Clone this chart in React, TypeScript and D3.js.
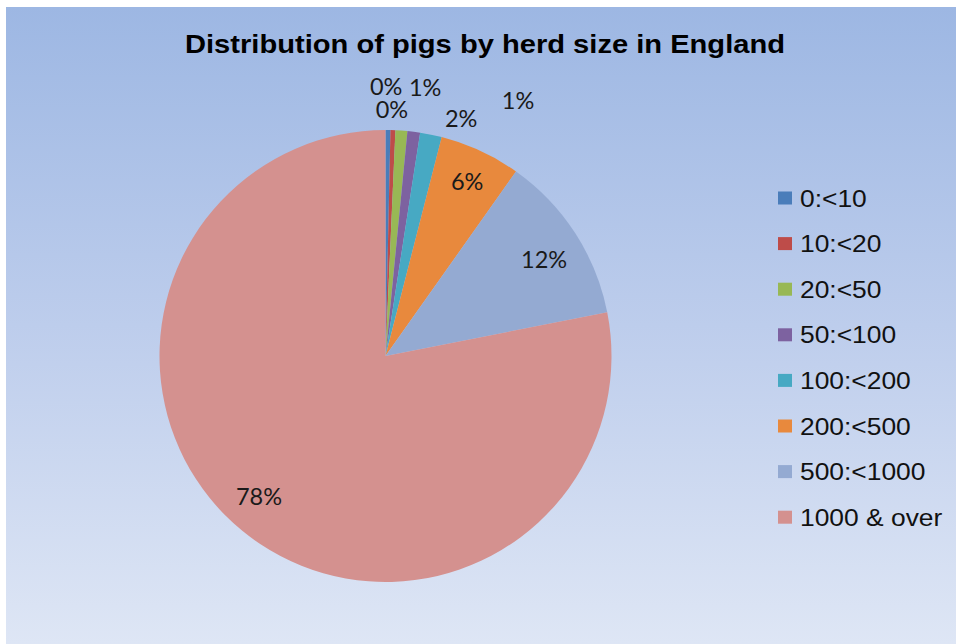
import React from 'react';
import * as d3 from 'd3';

const title = 'Distribution of pigs by herd size in England';
const categories = ['0:<10', '10:<20', '20:<50', '50:<100', '100:<200', '200:<500', '500:<1000', '1000 & over'];
const shares = [0.35, 0.35, 0.85, 0.9, 1.55, 5.8, 12.1, 78.1];
const colors = ['#4A7DBA', '#BE4C49', '#98B855', '#7D62A0', '#47A9C3', '#E8893D', '#94AAD2', '#D4918F'];

// label placement: [radius factor, angle offset in degrees from slice mid-angle]
const labelPlacement: [number, number][] = [
  [1.19, -0.5],
  [1.09, -0.4],
  [1.2, 4.35],
  [1.27, 20.3],
  [1.1, 6.1],
  [0.85, 0.3],
  [0.82, 1.8],
  [0.84, 2.4],
];

const W = 957;
const H = 644;
const cx = 385.5;
const cy = 356;
const R = 226;

export default function App() {
  const pie = d3.pie<number>().sort(null).value((d) => d);
  const arcs = pie(shares);
  const arc = d3.arc<d3.PieArcDatum<number>>().innerRadius(0).outerRadius(R);
  const total = d3.sum(shares);
  const fmt = (v: number) => `${Math.round((v / total) * 100)}%`;

  const legendX = 778;
  const legendY0 = 198;
  const legendStep = 45.6;

  return (
    <svg
      width={W}
      height={H}
      style={{ position: 'absolute', left: 0, top: 0 }}
      xmlns="http://www.w3.org/2000/svg"
    >
      <defs>
        <linearGradient id="bg" x1="0" y1="0" x2="0" y2="1">
          <stop offset="0%" stopColor="#9DB7E3" />
          <stop offset="50%" stopColor="#BDCDEC" />
          <stop offset="100%" stopColor="#DEE6F5" />
        </linearGradient>
      </defs>
      <rect x={0} y={0} width={W} height={H} fill="#ffffff" />
      <rect x={6} y={7} width={950} height={637} fill="url(#bg)" />
      <text
        x={485}
        y={53}
        textAnchor="middle"
        fontFamily="'Liberation Sans', Arial, sans-serif"
        fontWeight="bold"
        fontSize={26.5}
        textLength={600}
        lengthAdjust="spacingAndGlyphs"
        fill="#000"
      >
        {title}
      </text>
      <g transform={`translate(${cx},${cy})`}>
        {arcs.map((a, i) => (
          <path key={i} d={arc(a) || ''} fill={colors[i]} />
        ))}
        {arcs.map((a, i) => {
          const [rf, off] = labelPlacement[i];
          const mid = (a.startAngle + a.endAngle) / 2 + (off * Math.PI) / 180;
          const r = rf * R;
          const x = Math.sin(mid) * r;
          const y = -Math.cos(mid) * r;
          return (
            <text
              key={'l' + i}
              x={x}
              y={y + 8}
              textAnchor="middle"
              fontFamily="Lato, 'Open Sans', sans-serif"
              fontSize={23.5}
              fill="#1a1a1a"
            >
              {fmt(a.data)}
            </text>
          );
        })}
      </g>
      <g>
        {categories.map((c, i) => {
          const y = legendY0 + i * legendStep;
          return (
            <g key={c} transform={`translate(${legendX},${y})`}>
              <rect x={0} y={-6.5} width={14} height={13} fill={colors[i]} />
              <text
                x={20}
                y={0}
                dominantBaseline="central"
                fontFamily="'Liberation Sans', Arial, sans-serif"
                fontSize={24}
                transform="scale(1.1,1)"
                fill="#111"
              >
                {c}
              </text>
            </g>
          );
        })}
      </g>
    </svg>
  );
}
